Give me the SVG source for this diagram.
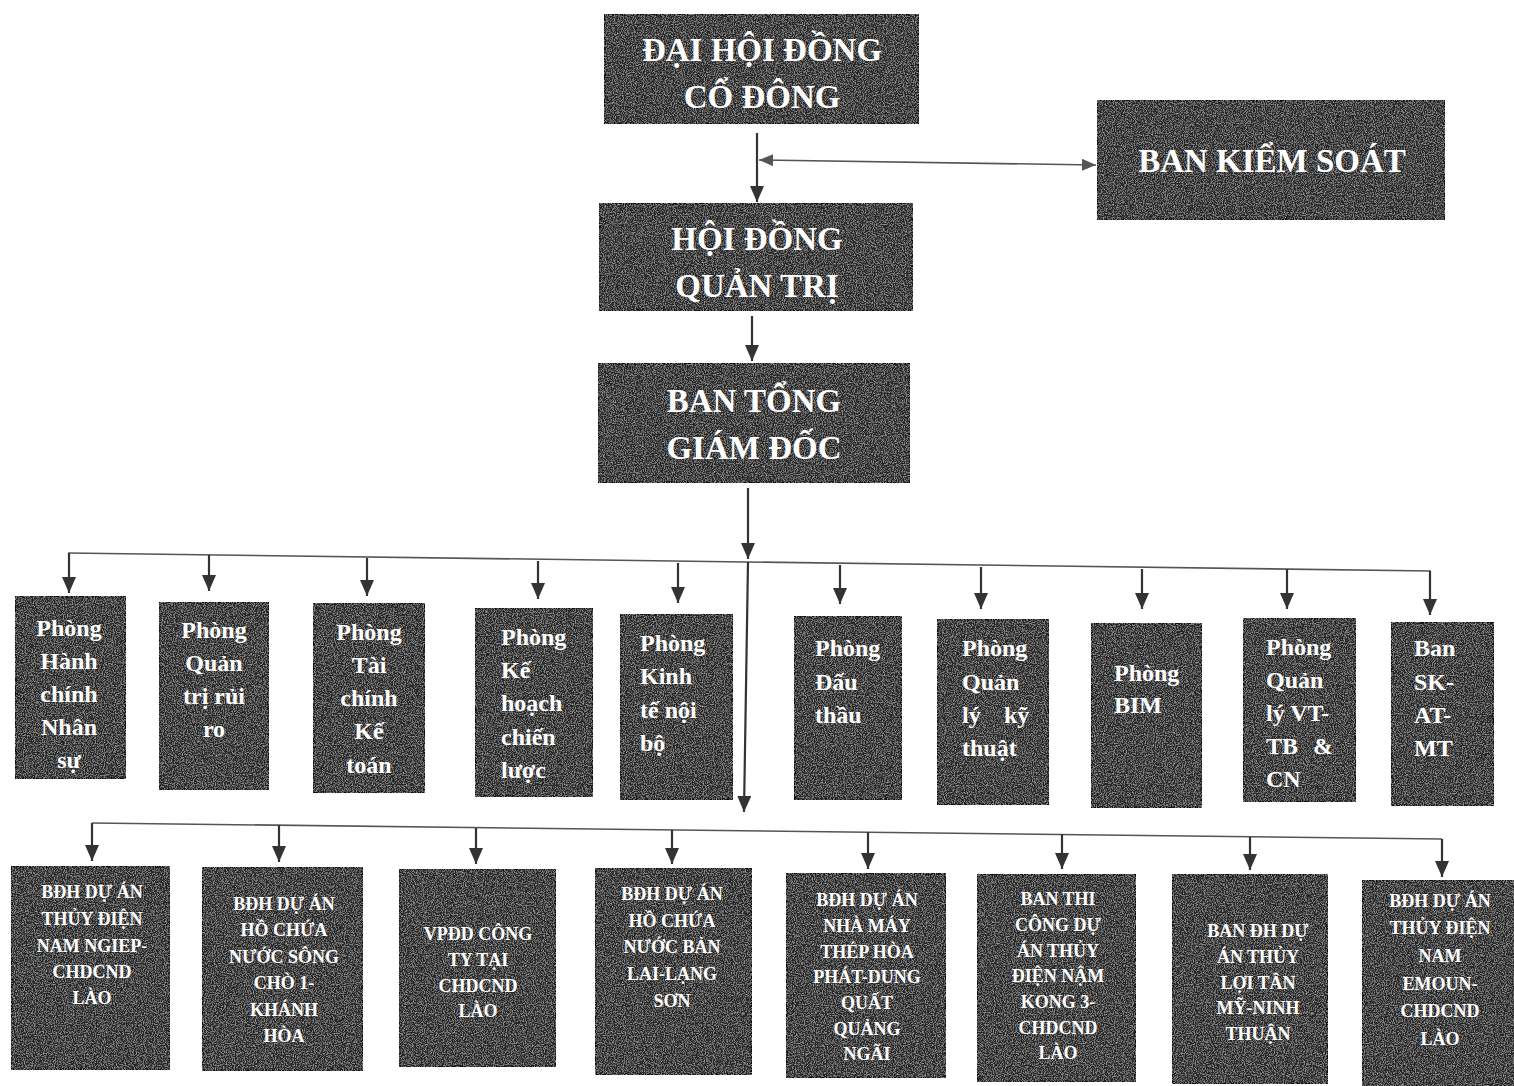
<svg xmlns="http://www.w3.org/2000/svg" width="1514" height="1086" viewBox="0 0 1514 1086">
<style>
.box{fill:#262626;stroke:#0d0d0d;stroke-width:2.5;filter:url(#grain)}
.t{fill:#fff;font-family:"Liberation Serif","Times New Roman",serif;font-weight:bold}
.top{font-size:33px;text-anchor:middle}
.mid{font-size:24px}
.c{text-anchor:middle}
.bot{font-size:18px;text-anchor:middle}
.ln{fill:none;stroke:#333;stroke-width:2.2}
.hl{fill:none;stroke:#555;stroke-width:1.6}
</style>
<defs>
<filter id="grain" x="0" y="0" width="100%" height="100%">
<feTurbulence type="fractalNoise" baseFrequency="0.9" numOctaves="2" seed="4" result="n"/>
<feColorMatrix in="n" type="matrix" values="0 0 0 0 0.5  0 0 0 0 0.5  0 0 0 0 0.5  1.8 0 0 0 -0.8" result="g"/>
<feComposite in="g" in2="SourceGraphic" operator="in" result="gi"/>
<feMerge><feMergeNode in="SourceGraphic"/><feMergeNode in="gi"/></feMerge>
</filter>
<marker id="ah" markerUnits="userSpaceOnUse" markerWidth="16" markerHeight="14" refX="16" refY="7" orient="auto"><path d="M0,0 L16,7 L0,14 z" fill="#333"/></marker>
<marker id="ah2" markerUnits="userSpaceOnUse" markerWidth="14" markerHeight="12" refX="14" refY="6" orient="auto-start-reverse"><path d="M0,0 L14,6 L0,12 z" fill="#555"/></marker>
</defs>
<rect width="1514" height="1086" fill="#fff"/>

<g id="connectors">
<line class="ln" x1="757" y1="133" x2="757" y2="202" marker-end="url(#ah)"/>
<line class="hl" x1="759" y1="160" x2="1096" y2="165" marker-start="url(#ah2)" marker-end="url(#ah2)"/>
<line class="ln" x1="752" y1="316" x2="752" y2="361" marker-end="url(#ah)"/>
<line class="ln" x1="748" y1="488" x2="748" y2="559" marker-end="url(#ah)"/>
<line class="hl" x1="68" y1="553" x2="1431" y2="571"/>
<line class="ln" x1="748" y1="562" x2="744" y2="812" marker-end="url(#ah)"/>
<line class="ln" x1="69" y1="553" x2="69" y2="593" marker-end="url(#ah)"/>
<line class="ln" x1="209" y1="555" x2="209" y2="591" marker-end="url(#ah)"/>
<line class="ln" x1="367" y1="558" x2="367" y2="596" marker-end="url(#ah)"/>
<line class="ln" x1="538" y1="561" x2="538" y2="599" marker-end="url(#ah)"/>
<line class="ln" x1="678" y1="563" x2="678" y2="603" marker-end="url(#ah)"/>
<line class="ln" x1="840" y1="565" x2="840" y2="604" marker-end="url(#ah)"/>
<line class="ln" x1="981" y1="567" x2="981" y2="609" marker-end="url(#ah)"/>
<line class="ln" x1="1142" y1="569" x2="1142" y2="609" marker-end="url(#ah)"/>
<line class="ln" x1="1287" y1="569" x2="1287" y2="609" marker-end="url(#ah)"/>
<line class="ln" x1="1430" y1="571" x2="1430" y2="615" marker-end="url(#ah)"/>
<line class="hl" x1="92" y1="823" x2="1442" y2="839"/>
<line class="ln" x1="92" y1="823" x2="92" y2="861" marker-end="url(#ah)"/>
<line class="ln" x1="279" y1="825" x2="279" y2="862" marker-end="url(#ah)"/>
<line class="ln" x1="476" y1="828" x2="476" y2="864" marker-end="url(#ah)"/>
<line class="ln" x1="672" y1="830" x2="672" y2="864" marker-end="url(#ah)"/>
<line class="ln" x1="868" y1="832" x2="868" y2="869" marker-end="url(#ah)"/>
<line class="ln" x1="1062" y1="834" x2="1062" y2="869" marker-end="url(#ah)"/>
<line class="ln" x1="1250" y1="837" x2="1250" y2="870" marker-end="url(#ah)"/>
<line class="ln" x1="1442" y1="839" x2="1442" y2="877" marker-end="url(#ah)"/>
</g>

<g id="dai-hoi-dong-co-dong">
<rect class="box" x="604" y="14" width="315" height="110"/>
<text class="t top" x="762" y="61">ĐẠI HỘI ĐỒNG</text>
<text class="t top" x="762" y="108">CỔ ĐÔNG</text>
</g>
<g id="ban-kiem-soat">
<rect class="box" x="1097" y="100" width="348" height="120"/>
<text class="t top" x="1272" y="172">BAN KIỂM SOÁT</text>
</g>
<g id="hoi-dong-quan-tri">
<rect class="box" x="599" y="203" width="314" height="108"/>
<text class="t top" x="757" y="250">HỘI ĐỒNG</text>
<text class="t top" x="757" y="297">QUẢN TRỊ</text>
</g>
<g id="ban-tong-giam-doc">
<rect class="box" x="598" y="363" width="312" height="120"/>
<text class="t top" x="754" y="412">BAN TỔNG</text>
<text class="t top" x="754" y="459">GIÁM ĐỐC</text>
</g>

<g id="phong-hcns">
<rect class="box" x="15" y="596" width="111" height="183"/>
<text class="t mid c"><tspan x="69" y="636">Phòng</tspan><tspan x="69" y="669">Hành</tspan><tspan x="69" y="702">chính</tspan><tspan x="69" y="735">Nhân</tspan><tspan x="69" y="768">sự</tspan></text>
</g>
<g id="phong-qtrr">
<rect class="box" x="159" y="602" width="110" height="188"/>
<text class="t mid c"><tspan x="214" y="638">Phòng</tspan><tspan x="214" y="671">Quản</tspan><tspan x="214" y="704">trị rủi</tspan><tspan x="214" y="737">ro</tspan></text>
</g>
<g id="phong-tckt">
<rect class="box" x="313" y="603" width="112" height="190"/>
<text class="t mid c"><tspan x="369" y="640">Phòng</tspan><tspan x="369" y="673">Tài</tspan><tspan x="369" y="706">chính</tspan><tspan x="369" y="739">Kế</tspan><tspan x="369" y="773">toán</tspan></text>
</g>
<g id="phong-khcl">
<rect class="box" x="475" y="608" width="118" height="189"/>
<text class="t mid"><tspan x="501" y="645">Phòng</tspan><tspan x="501" y="678">Kế</tspan><tspan x="501" y="711">hoạch</tspan><tspan x="501" y="745">chiến</tspan><tspan x="501" y="778">lược</tspan></text>
</g>
<g id="phong-ktnb">
<rect class="box" x="620" y="614" width="113" height="186"/>
<text class="t mid"><tspan x="640" y="651">Phòng</tspan><tspan x="640" y="684">Kinh</tspan><tspan x="640" y="718">tế nội</tspan><tspan x="640" y="751">bộ</tspan></text>
</g>
<g id="phong-dau-thau">
<rect class="box" x="794" y="616" width="108" height="184"/>
<text class="t mid"><tspan x="815" y="656">Phòng</tspan><tspan x="815" y="690">Đấu</tspan><tspan x="815" y="723">thầu</tspan></text>
</g>
<g id="phong-qlkt">
<rect class="box" x="937" y="619" width="112" height="186"/>
<text class="t mid"><tspan x="962" y="656">Phòng</tspan><tspan x="962" y="690">Quản</tspan><tspan x="962" y="723">lý</tspan><tspan x="1004" y="723">kỹ</tspan><tspan x="962" y="756">thuật</tspan></text>
</g>
<g id="phong-bim">
<rect class="box" x="1091" y="623" width="111" height="185"/>
<text class="t mid"><tspan x="1114" y="681">Phòng</tspan><tspan x="1114" y="713">BIM</tspan></text>
</g>
<g id="phong-ql-vt-tb-cn">
<rect class="box" x="1243" y="618" width="113" height="184"/>
<text class="t mid"><tspan x="1266" y="655">Phòng</tspan><tspan x="1266" y="688">Quản</tspan><tspan x="1266" y="721">lý VT-</tspan><tspan x="1266" y="754">TB</tspan><tspan x="1313" y="754">&amp;</tspan><tspan x="1266" y="787">CN</tspan></text>
</g>
<g id="ban-sk-at-mt">
<rect class="box" x="1391" y="622" width="103" height="184"/>
<text class="t mid"><tspan x="1414" y="656">Ban</tspan><tspan x="1414" y="690">SK-</tspan><tspan x="1414" y="723">AT-</tspan><tspan x="1414" y="756">MT</tspan></text>
</g>

<g id="bdh-nam-ngiep">
<rect class="box" x="11" y="866" width="159" height="204"/>
<text class="t bot"><tspan x="92" y="898">BĐH DỰ ÁN</tspan><tspan x="92" y="925">THỦY ĐIỆN</tspan><tspan x="92" y="952">NAM NGIEP-</tspan><tspan x="92" y="978">CHDCND</tspan><tspan x="92" y="1004">LÀO</tspan></text>
</g>
<g id="bdh-song-cho">
<rect class="box" x="202" y="867" width="161" height="204"/>
<text class="t bot"><tspan x="284" y="910">BĐH DỰ ÁN</tspan><tspan x="284" y="936">HỒ CHỨA</tspan><tspan x="284" y="963">NƯỚC SÔNG</tspan><tspan x="284" y="989">CHÒ 1-</tspan><tspan x="284" y="1016">KHÁNH</tspan><tspan x="284" y="1042">HÒA</tspan></text>
</g>
<g id="vpdd-lao">
<rect class="box" x="399" y="869" width="157" height="198"/>
<text class="t bot"><tspan x="478" y="940">VPĐD CÔNG</tspan><tspan x="478" y="966">TY TẠI</tspan><tspan x="478" y="992">CHDCND</tspan><tspan x="478" y="1017">LÀO</tspan></text>
</g>
<g id="bdh-ban-lai">
<rect class="box" x="595" y="868" width="157" height="207"/>
<text class="t bot"><tspan x="672" y="900">BĐH DỰ ÁN</tspan><tspan x="672" y="927">HỒ CHỨA</tspan><tspan x="672" y="953">NƯỚC BẢN</tspan><tspan x="672" y="980">LAI-LẠNG</tspan><tspan x="672" y="1007">SƠN</tspan></text>
</g>
<g id="bdh-thep-hoa-phat">
<rect class="box" x="786" y="873" width="160" height="205"/>
<text class="t bot"><tspan x="867" y="906">BĐH DỰ ÁN</tspan><tspan x="867" y="932">NHÀ MÁY</tspan><tspan x="867" y="958">THÉP HÒA</tspan><tspan x="867" y="983">PHÁT-DUNG</tspan><tspan x="867" y="1009">QUẤT</tspan><tspan x="867" y="1035">QUẢNG</tspan><tspan x="867" y="1060">NGÃI</tspan></text>
</g>
<g id="ban-thi-cong-nam-kong">
<rect class="box" x="977" y="874" width="159" height="208"/>
<text class="t bot"><tspan x="1058" y="905">BAN THI</tspan><tspan x="1058" y="931">CÔNG DỰ</tspan><tspan x="1058" y="957">ÁN THỦY</tspan><tspan x="1058" y="982">ĐIỆN NẬM</tspan><tspan x="1058" y="1008">KONG 3-</tspan><tspan x="1058" y="1034">CHDCND</tspan><tspan x="1058" y="1059">LÀO</tspan></text>
</g>
<g id="ban-dh-tan-my">
<rect class="box" x="1172" y="874" width="156" height="210"/>
<text class="t bot"><tspan x="1258" y="937">BAN ĐH DỰ</tspan><tspan x="1258" y="963">ÁN THỦY</tspan><tspan x="1258" y="989">LỢI TÂN</tspan><tspan x="1258" y="1014">MỸ-NINH</tspan><tspan x="1258" y="1040">THUẬN</tspan></text>
</g>
<g id="bdh-nam-emoun">
<rect class="box" x="1362" y="880" width="160" height="212"/>
<text class="t bot"><tspan x="1440" y="907">BĐH DỰ ÁN</tspan><tspan x="1440" y="934">THỦY ĐIỆN</tspan><tspan x="1440" y="962">NAM</tspan><tspan x="1440" y="990">EMOUN-</tspan><tspan x="1440" y="1017">CHDCND</tspan><tspan x="1440" y="1045">LÀO</tspan></text>
</g>
</svg>
